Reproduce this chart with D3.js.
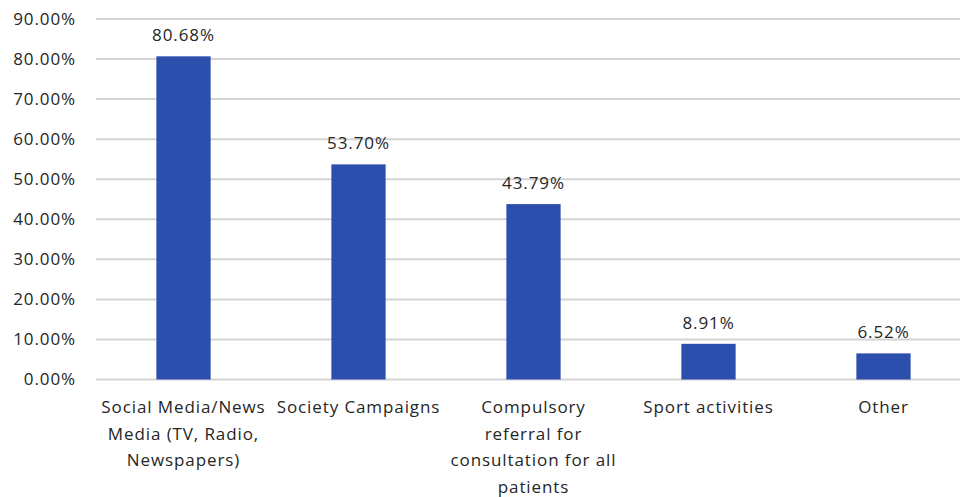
<!DOCTYPE html>
<html lang="en">
<head>
  <meta charset="UTF-8">
  <title>Bar chart</title>
  <script src="https://d3js.org/d3.v7.min.js"></script>
  <style>
    body { margin: 0; background: #fff; }
    text { font-family: "Open Sans", sans-serif; fill: #262626; font-size: 17px; letter-spacing: 0.9px; }
  </style>
</head>
<body>
<div id="chart"></div>
<script>
// categories (line breaks as in the picture) and values in percent
const categories = [
  "Social Media/News\nMedia (TV, Radio,\nNewspapers)",
  "Society Campaigns",
  "Compulsory\nreferral for\nconsultation for all\npatients",
  "Sport activities",
  "Other"
];
const values = [80.68, 53.70, 43.79, 8.91, 6.52];
const yTicks = [0, 10, 20, 30, 40, 50, 60, 70, 80, 90];

const width = 960, height = 497;
const svg = d3.select("#chart").append("svg")
  .attr("width", width)
  .attr("height", height);

const x = d3.scaleBand()
  .domain(d3.range(categories.length))
  .range([96, 971])
  .paddingInner(0.69)
  .paddingOuter(0.345);

const y = d3.scaleLinear()
  .domain([0, 90])
  .range([379.5, 19]);

// gridlines
svg.append("g")
  .selectAll("line")
  .data(yTicks)
  .join("line")
  .attr("x1", 96)
  .attr("x2", 960)
  .attr("y1", d => y(d))
  .attr("y2", d => y(d))
  .attr("stroke", "#d4d4d4")
  .attr("stroke-width", 2);

// y axis labels
const yAxis = svg.append("g")
  .attr("transform", "translate(76,0)")
  .call(d3.axisLeft(y).tickValues(yTicks).tickSize(0).tickPadding(0)
    .tickFormat(d => d.toFixed(2) + "%"));
yAxis.select(".domain").remove();
yAxis.selectAll("text")
  .attr("font-size", null)
  .attr("font-family", null)
  .attr("fill", "#333");

// bars
svg.append("g")
  .selectAll("rect")
  .data(values)
  .join("rect")
  .attr("x", (d, i) => x(i))
  .attr("width", x.bandwidth())
  .attr("y", d => y(d))
  .attr("height", d => y(0) - y(d))
  .attr("fill", "#2c4fae");

// value labels
svg.append("g")
  .selectAll("text")
  .data(values)
  .join("text")
  .attr("x", (d, i) => x(i) + x.bandwidth() / 2)
  .attr("y", d => y(d) - 15)
  .attr("text-anchor", "middle")
  .text(d => d.toFixed(2) + "%");

// category labels
const xAxis = svg.append("g")
  .attr("transform", `translate(0,${y(0)})`)
  .call(d3.axisBottom(x).tickSize(0).tickFormat(""));
xAxis.select(".domain").remove();

const cat = svg.append("g")
  .selectAll("text")
  .data(categories)
  .join("text")
  .attr("x", (d, i) => x(i) + x.bandwidth() / 2)
  .attr("y", 413)
  .attr("text-anchor", "middle");
cat.each(function(d) {
  const t = d3.select(this);
  d.split("\n").forEach((line, k) => {
    t.append("tspan")
      .attr("x", t.attr("x"))
      .attr("dy", k === 0 ? 0 : 26.5)
      .text(line);
  });
});
</script>
</body>
</html>
